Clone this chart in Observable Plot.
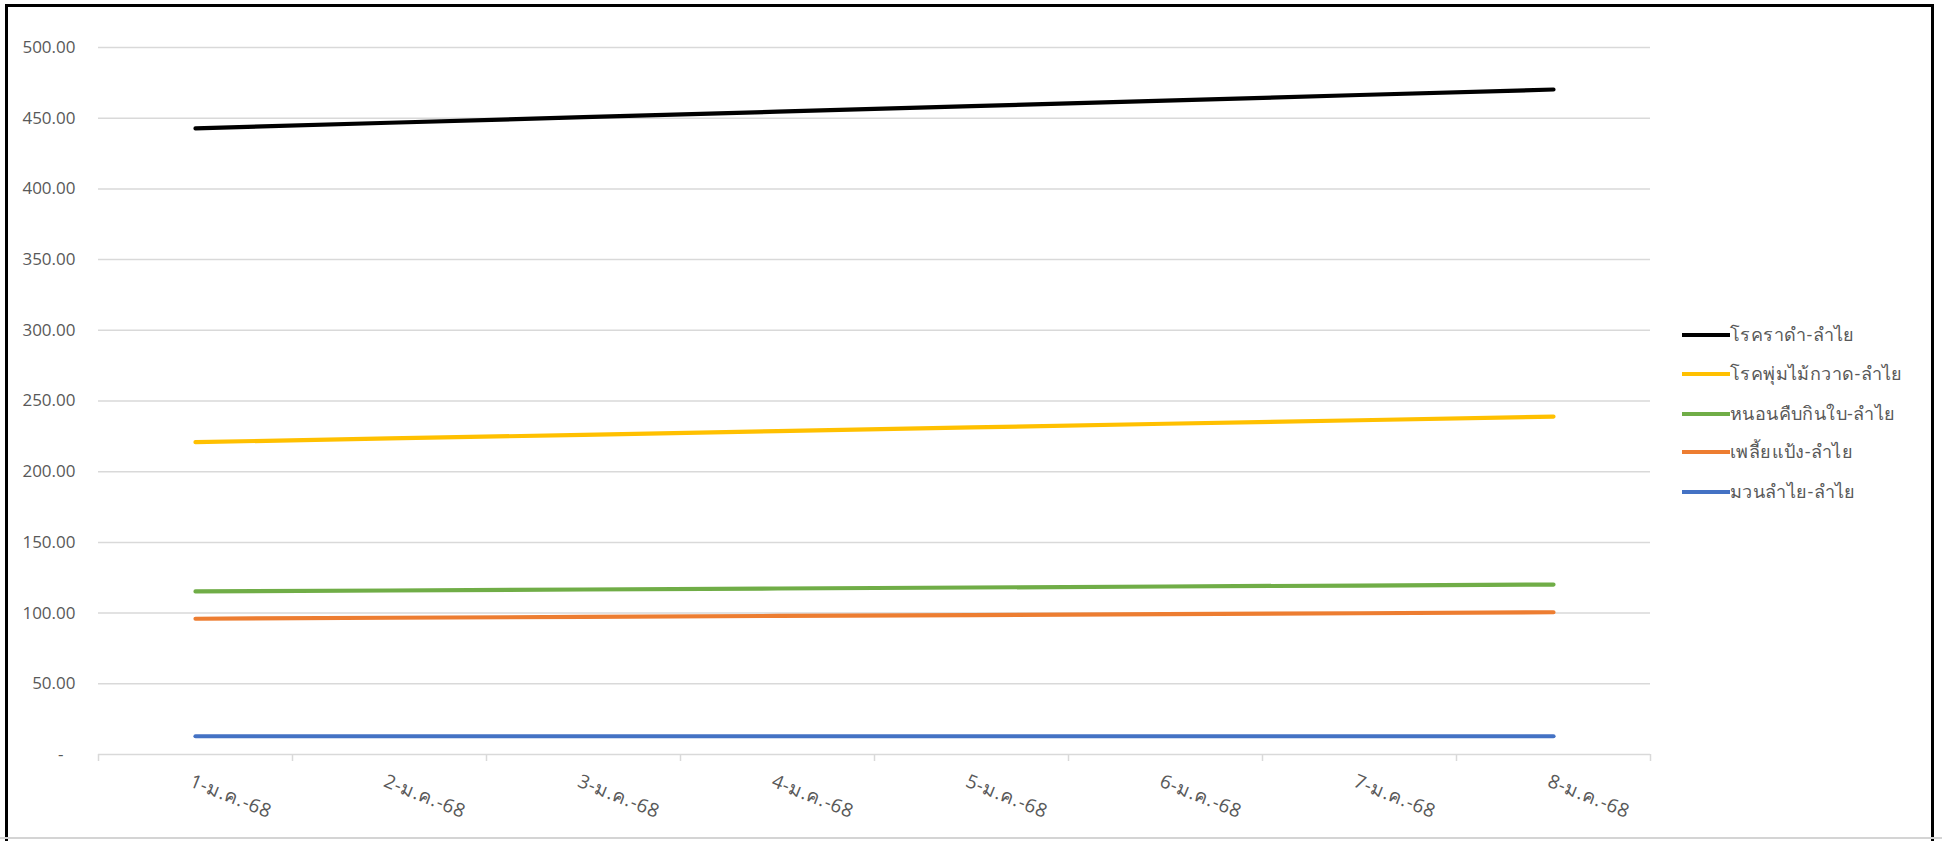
<!DOCTYPE html>
<html>
<head>
<meta charset="utf-8">
<script src="https://cdn.jsdelivr.net/npm/d3@7"></script>
<script src="https://cdn.jsdelivr.net/npm/@observablehq/plot@0.6"></script>
<style>
  html, body { margin: 0; padding: 0; background: #fff; overflow: hidden; }
  body { width: 1942px; height: 841px; position: relative; font-family: "Open Sans", "Noto Sans", sans-serif; }
  #frame { position: absolute; left: 5px; top: 4px; width: 1929px; height: 900px; border: 3px solid #000; box-sizing: border-box; }
  #sheet { position: absolute; left: 0; top: 837px; width: 1942px; height: 0; border-top: 2px solid #d4d4d4; }
  #chart { position: absolute; left: 0; top: 0; }
  #legend { position: absolute; left: 1682px; top: 0; }
  .item { position: absolute; left: 0; height: 0; white-space: nowrap; }
  .sw { position: absolute; left: 0; top: -2px; width: 48px; height: 4px; }
  .lb { position: absolute; left: 48px; top: -14px; font-size: 18px; letter-spacing: 0.4px; line-height: 26px; color: #595959; }
</style>
</head>
<body>
<div id="frame"></div>
<div id="sheet"></div>
<div id="chart"></div>
<div id="legend"></div>
<script>
// ---- data ----
const dates = ["1-ม.ค.-68", "2-ม.ค.-68", "3-ม.ค.-68", "4-ม.ค.-68", "5-ม.ค.-68", "6-ม.ค.-68", "7-ม.ค.-68", "8-ม.ค.-68"];
const seriesNames = ["โรคราดำ-ลำไย", "โรคพุ่มไม้กวาด-ลำไย", "หนอนคืบกินใบ-ลำไย", "เพลี้ยแป้ง-ลำไย", "มวนลำไย-ลำไย"];
const seriesColors = ["#000000", "#FFC000", "#70AD47", "#ED7D31", "#4472C4"];
const rakdamValues = [442.8, 446.8, 450.7, 454.6, 458.5, 462.4, 466.4, 470.3];
const phumValues = [220.9, 223.5, 226.1, 228.7, 231.3, 233.9, 236.4, 239.0];
const nonValues = [115.3, 116.0, 116.7, 117.4, 118.1, 118.8, 119.5, 120.2];
const phliaValues = [96.0, 96.7, 97.3, 98.0, 98.6, 99.3, 99.9, 100.6];
const muanValues = [12.9, 12.9, 12.9, 12.9, 12.9, 12.9, 12.9, 12.9];
const yTicks = [0, 50, 100, 150, 200, 250, 300, 350, 400, 450, 500];

// ---- build table ----
const allValues = [rakdamValues, phumValues, nonValues, phliaValues, muanValues];
const rows = [];
seriesNames.forEach((name, s) => {
  allValues[s].forEach((v, i) => rows.push({series: name, idx: i + 1, value: v}));
});
const idxs = dates.map((d, i) => i + 1);
const bounds = d3.range(0.5, dates.length + 1, 1);
const textColor = "#595959";
const gridColor = "#d9d9d9";

const chart = Plot.plot({
  width: 1942,
  height: 841,
  marginLeft: 98,
  marginRight: 292,
  marginTop: 47,
  marginBottom: 87,
  style: {fontFamily: "'Open Sans', 'Noto Sans', sans-serif", fontSize: "17px", background: "transparent", color: textColor},
  x: {type: "linear", domain: [0.5, dates.length + 0.5]},
  y: {domain: [0, 500]},
  color: {domain: seriesNames, range: seriesColors},
  marks: [
    Plot.gridY(yTicks, {stroke: gridColor, strokeOpacity: 1, strokeWidth: 1.5}),
    Plot.axisY(yTicks.filter(t => t !== 0), {tickSize: 0, tickPadding: 23, tickFormat: d => d.toFixed(2), fill: textColor, label: null, fontSize: 17}),
    Plot.axisY([0], {tickSize: 0, tickPadding: 35, tickFormat: () => "-", fill: textColor, label: null, fontSize: 17}),
    Plot.axisX(bounds, {tickSize: 7, tickFormat: () => "", stroke: gridColor, strokeWidth: 1.5, label: null}),
    Plot.text(idxs, {x: d => d, frameAnchor: "bottom", dy: 19, dx: -2, text: d => dates[d - 1], rotate: 22, textAnchor: "start", lineAnchor: "top", fill: textColor, fontSize: 19, letterSpacing: "0.6px"}),
    Plot.line(rows, {x: "idx", y: "value", z: "series", stroke: "series", strokeWidth: 4.2, strokeLinecap: "round", strokeLinejoin: "round", curve: "linear"})
  ]
});
chart.querySelectorAll("text").forEach(t => { if (/ม\.ค\./.test(t.textContent)) t.style.letterSpacing = "0.6px"; });
document.getElementById("chart").appendChild(chart);

// ---- legend ----
const legend = document.getElementById("legend");
const legendY = [335, 374, 414, 452, 492];
seriesNames.forEach((name, i) => {
  const item = document.createElement("div");
  item.className = "item";
  item.style.top = legendY[i] + "px";
  const sw = document.createElement("div");
  sw.className = "sw";
  sw.style.background = seriesColors[i];
  const lb = document.createElement("div");
  lb.className = "lb";
  lb.textContent = name;
  item.appendChild(sw);
  item.appendChild(lb);
  legend.appendChild(item);
});
</script>
</body>
</html>
